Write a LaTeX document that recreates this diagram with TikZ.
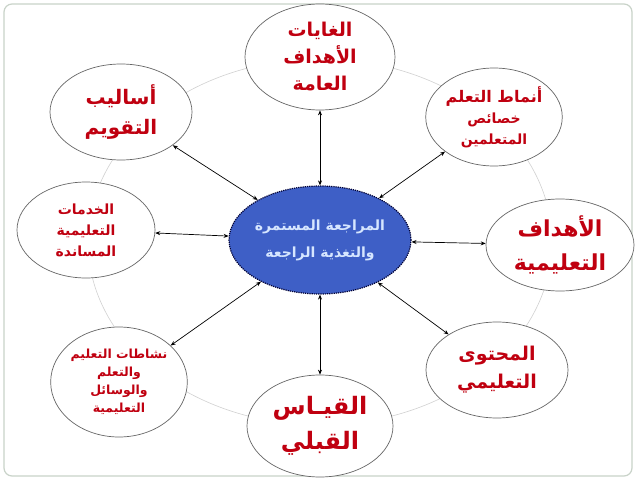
\documentclass[tikz,border=0pt]{standalone}
\usepackage{fontspec}
\usetikzlibrary{shapes.geometric,arrows.meta}
\TeXXeTstate=1
\newfontfamily\arabicfont[Script=Arabic]{DejaVu Sans}
\newcommand\arln[1]{\beginR #1\endR}
\definecolor{txtred}{HTML}{C00010}
\definecolor{ctrblue}{HTML}{3E5FC6}
\definecolor{ctrtxt}{HTML}{D6E6FF}
\definecolor{framecol}{HTML}{C9D3C9}
\tikzset{
  outer/.style={ellipse, draw=black!60, line width=0.7pt, fill=white, inner sep=0pt,
    text=txtred, align=center, font=\arabicfont\bfseries},
  center/.style={ellipse, draw=black!80!blue, densely dotted, line width=1.2pt, fill=ctrblue,
    inner sep=0pt},
  ctrlabel/.style={inner sep=0pt, text=ctrtxt, align=center,
    font=\arabicfont\bfseries\fontsize{14}{27}\selectfont},
  link/.style={{Stealth[length=5pt,width=4pt]}-{Stealth[length=5pt,width=4pt]}, line width=0.7pt, black}
}
\begin{document}
\begin{tikzpicture}[x=1pt,y=-1pt]
\useasboundingbox (0,0) rectangle (638,479);
\fill[white] (0,0) rectangle (638,479);
\draw[framecol, line width=1.2pt, rounded corners=8pt] (4,4) rectangle (632,476);
\draw[black!18, line width=0.6pt] (320,242) ellipse [x radius=232, y radius=183];

\node[center, minimum width=182pt, minimum height=108pt] (c) at (320,240) {};
\node[ctrlabel] (ct) at (c.center)
  {\arln{المراجعة المستمرة}\\\arln{والتغذية الراجعة}};

\node[outer, minimum width=150pt, minimum height=106pt,
  font=\arabicfont\bfseries\fontsize{19}{27}\selectfont] (top) at (320,57)
  {\arln{الغايات}\\\arln{الأهداف}\\\arln{العامة}};

\node[outer, minimum width=128pt, minimum height=98pt,
  font=\arabicfont\bfseries\fontsize{14}{21}\selectfont] (tr) at (494,117)
  {\arln{{\fontsize{16}{21}\selectfont أنماط التعلم}}\\\arln{خصائص}\\\arln{المتعلمين}};

\node[outer, minimum width=142pt, minimum height=96pt,
  font=\arabicfont\bfseries\fontsize{20}{30}\selectfont] (tl) at (121,112)
  {\arln{أساليب}\\\arln{التقويم}};

\node[outer, minimum width=138pt, minimum height=96pt,
  font=\arabicfont\bfseries\fontsize{14}{21}\selectfont] (l) at (86,230)
  {\arln{الخدمات}\\\arln{التعليمية}\\\arln{المساندة}};

\node[outer, minimum width=148pt, minimum height=92pt,
  font=\arabicfont\bfseries\fontsize{22}{34}\selectfont] (r) at (560,245)
  {\arln{الأهداف}\\\arln{التعليمية}};

\node[outer, minimum width=134pt, minimum height=110pt,
  font=\arabicfont\bfseries\fontsize{12.5}{18}\selectfont] (bl) at (119,382)
  {\arln{نشاطات التعليم}\\\arln{والتعلم}\\\arln{والوسائل}\\\arln{التعليمية}};

\node[outer, minimum width=146pt, minimum height=102pt,
  font=\arabicfont\bfseries\fontsize{24}{35}\selectfont] (b) at (320,426)
  {\arln{القيـاس}\\\arln{القبلي}};

\node[outer, minimum width=142pt, minimum height=96pt,
  font=\arabicfont\bfseries\fontsize{19}{28}\selectfont] (br) at (497,370)
  {\arln{المحتوى}\\\arln{التعليمي}};

\foreach \n in {top,tr,tl,l,r,bl,b,br} \draw[link] (c) -- (\n);
\end{tikzpicture}
\end{document}
